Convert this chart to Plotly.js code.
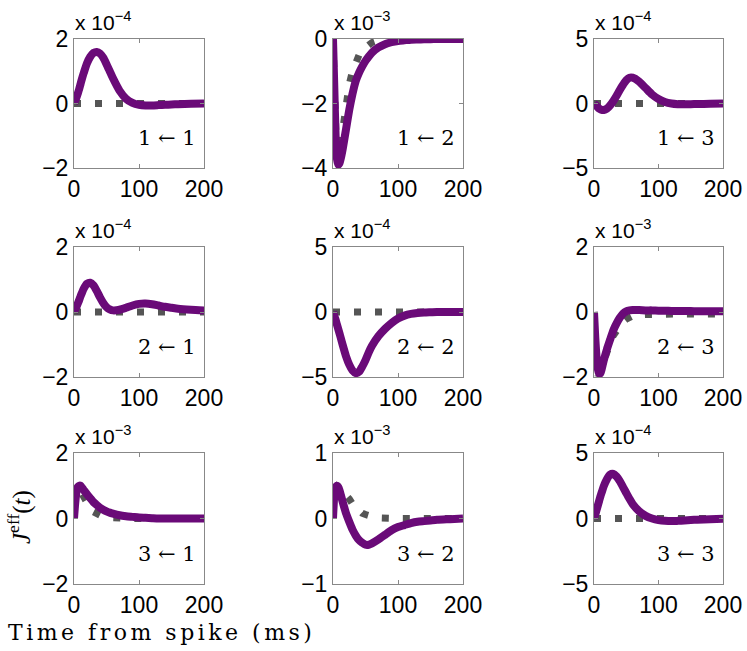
<!DOCTYPE html>
<html>
<head>
<meta charset="utf-8">
<script src="https://cdn.plot.ly/plotly-3.0.1.min.js"></script>
<style>html,body{margin:0;padding:0;background:#fff;}</style>
</head>
<body>
<div id="chart" style="width:747px;height:651px;"></div>
<script>
// time from spike (ms)
const t = [0,2,4,6,8,10,12,15,20,25,30,35,40,45,50,55,60,70,80,90,100,110,120,130,140,150,160,180,200];

// panel labels, axis ranges, tick values and exponents (values below are in units of 10^exp)
const panelLabels = ["1 ← 1","1 ← 2","1 ← 3","2 ← 1","2 ← 2","2 ← 3","3 ← 1","3 ← 2","3 ← 3"];
const exponents = [-4,-3,-4,-4,-4,-3,-3,-3,-4];
const yRanges = [[-2,2],[-4,0],[-5,5],[-2,2],[-5,5],[-2,2],[-2,2],[-1,1],[-5,5]];
const yTicks = [[-2,0,2],[-4,-2,0],[-5,0,5],[-2,0,2],[-5,0,5],[-2,0,2],[-2,0,2],[-1,0,1],[-5,0,5]];
const xTicks = [0,100,200];

// solid purple curves
const p11 = [0,0.1,0.2,0.32,0.45,0.6,0.75,0.95,1.25,1.45,1.57,1.6,1.55,1.42,1.22,1.0,0.78,0.4,0.15,0.02,-0.04,-0.06,-0.06,-0.05,-0.04,-0.03,-0.02,-0.01,0];
const p12 = [0,-1.5,-3.0,-3.7,-3.9,-3.85,-3.7,-3.4,-2.8,-2.2,-1.7,-1.3,-1.05,-0.85,-0.68,-0.54,-0.42,-0.26,-0.16,-0.1,-0.06,-0.04,-0.02,-0.015,-0.01,-0.005,0,0,0];
const p13 = [0,-0.1,-0.2,-0.3,-0.4,-0.45,-0.5,-0.5,-0.4,-0.15,0.2,0.6,1.05,1.45,1.8,2.0,2.0,1.7,1.2,0.7,0.35,0.12,0.0,-0.05,-0.06,-0.05,-0.04,-0.02,0];
const p21 = [0,0.08,0.17,0.27,0.37,0.48,0.58,0.72,0.87,0.9,0.82,0.65,0.45,0.28,0.15,0.08,0.05,0.07,0.13,0.2,0.25,0.26,0.24,0.2,0.16,0.13,0.1,0.07,0.05];
const p22 = [0,-0.3,-0.6,-0.95,-1.3,-1.65,-2.0,-2.55,-3.4,-4.05,-4.5,-4.7,-4.6,-4.2,-3.7,-3.1,-2.6,-1.85,-1.3,-0.85,-0.5,-0.28,-0.15,-0.08,-0.04,-0.02,0,0,0];
const p23 = [0,-0.8,-1.4,-1.75,-1.9,-1.88,-1.75,-1.5,-1.15,-0.85,-0.56,-0.35,-0.18,-0.05,0.02,0.05,0.06,0.06,0.05,0.05,0.04,0.04,0.03,0.03,0.03,0.03,0.02,0.02,0.02];
const p31 = [0,0.5,0.85,0.97,1.0,1.0,0.95,0.87,0.74,0.62,0.5,0.41,0.33,0.27,0.22,0.18,0.15,0.1,0.07,0.05,0.03,0.02,0.01,0,0,0,0,0,0];
const p32 = [0,0.35,0.47,0.5,0.48,0.43,0.36,0.25,0.08,-0.05,-0.17,-0.26,-0.33,-0.37,-0.4,-0.4,-0.38,-0.32,-0.25,-0.18,-0.13,-0.1,-0.07,-0.05,-0.04,-0.03,-0.02,-0.01,0];
const p33 = [0,0.3,0.65,1.0,1.35,1.7,2.0,2.45,3.0,3.35,3.4,3.2,2.85,2.4,1.95,1.5,1.1,0.55,0.2,0.0,-0.12,-0.18,-0.2,-0.18,-0.15,-0.12,-0.09,-0.05,-0.02];

// dotted grey curves
const g11 = [0,0,0,0,0,0,0,0,0,0,0,0,0,0,0,0,0,0,0,0,0,0,0,0,0,0,0,0,0];
const g12 = [0,-2.0,-3.6,-3.9,-3.8,-3.5,-3.2,-2.8,-2.0,-1.4,-1.0,-0.72,-0.5,-0.35,-0.25,-0.17,-0.11,-0.04,-0.01,0,0,0,0,0,0,0,0,0,0];
const g13 = [0,0,0,0,0,0,0,0,0,0,0,0,0,0,0,0,0,0,0,0,0,0,0,0,0,0,0,0,0];
const g21 = [0,0,0,0,0,0,0,0,0,0,0,0,0,0,0,0,0,0,0,0,0,0,0,0,0,0,0,0,0];
const g22 = [0,0,0,0,0,0,0,0,0,0,0,0,0,0,0,0,0,0,0,0,0,0,0,0,0,0,0,0,0];
const g23 = [0,-1.2,-1.8,-1.95,-1.9,-1.8,-1.7,-1.5,-1.2,-0.95,-0.72,-0.55,-0.4,-0.3,-0.22,-0.16,-0.12,-0.08,-0.07,-0.06,-0.06,-0.06,-0.06,-0.06,-0.06,-0.06,-0.06,-0.06,-0.06];
const g31 = [0,0.6,0.95,0.98,0.93,0.85,0.77,0.66,0.42,0.3,0.2,0.13,0.08,0.05,0.03,0.02,0.01,0,0,0,0,0,0,0,0,0,0,0,0];
const g32 = [0.45,0.48,0.5,0.5,0.49,0.47,0.45,0.42,0.38,0.3,0.22,0.16,0.12,0.08,0.06,0.04,0.03,0.01,0,0,0,0,0,0,0,0,0,0,0];
const g33 = [0,0,0,0,0,0,0,0,0,0,0,0,0,0,0,0,0,0,0,0,0,0,0,0,0,0,0,0,0];

const purple = [p11,p12,p13,p21,p22,p23,p31,p32,p33];
const grey = [g11,g12,g13,g21,g22,g23,g31,g32,g33];

const colDomains = [[74/747,204/747],[333/747,463/747],[594/747,723/747]];
const rowDomains = [[1-168/651,1-39/651],[1-377/651,1-247/651],[1-584/651,1-453/651]];

const data = [];
const layout = {
  width:747, height:651,
  margin:{l:0,r:0,t:0,b:0},
  paper_bgcolor:'#fff', plot_bgcolor:'#fff',
  showlegend:false,
  annotations:[]
};
const tickFont = {family:'"Liberation Sans", Arial, sans-serif', size:23, color:'#000'};

for (let i=0;i<9;i++){
  const r = Math.floor(i/3), c = i%3;
  const n = i===0 ? '' : String(i+1);
  const xa = 'x'+n, ya = 'y'+n;
  data.push({x:t, y:grey[i], xaxis:xa, yaxis:ya, mode:'lines',
    line:{color:'#555555', width:7, dash:'7px,14px'}, hoverinfo:'skip'});
  data.push({x:t, y:purple[i], xaxis:xa, yaxis:ya, mode:'lines',
    line:{color:'#6a0a78', width:8, shape:'spline', smoothing:0.6}, hoverinfo:'skip'});
  layout['xaxis'+n] = {
    domain:colDomains[c], anchor:ya, range:[0,200], tickvals:xTicks,
    ticks:'inside', ticklen:4, tickcolor:'#888', showline:true, linecolor:'#888', linewidth:1,
    mirror:'ticks', showgrid:false, zeroline:false, tickfont:tickFont, fixedrange:true
  };
  layout['yaxis'+n] = {
    domain:rowDomains[r], anchor:xa, range:yRanges[i], tickvals:yTicks[i],
    ticks:'inside', ticklen:4, tickcolor:'#888', showline:true, linecolor:'#888', linewidth:1,
    mirror:'ticks', showgrid:false, zeroline:false, tickfont:tickFont, fixedrange:true
  };
  layout.annotations.push({
    xref:xa+' domain', yref:ya+' domain', x:0, y:1, xanchor:'left', yanchor:'bottom',
    xshift:-1, yshift:3, showarrow:false,
    text:'x 10<sup>−'+Math.abs(exponents[i])+'</sup>',
    font:{family:'"Liberation Sans", Arial, sans-serif', size:21, color:'#000'}
  });
  layout.annotations.push({
    xref:xa+' domain', yref:ya+' domain', x:0.95, y:0.23, xanchor:'right', yanchor:'middle',
    showarrow:false, text:panelLabels[i],
    font:{family:'"DejaVu Serif", serif', size:21, color:'#000'}
  });
}
layout.annotations.push({
  xref:'paper', yref:'paper', x:161/747, y:1-632/651, xanchor:'center', yanchor:'middle',
  showarrow:false, text:'Time from spike (ms)',
  font:{family:'"DejaVu Serif", serif', size:22, color:'#000'}
});
layout.annotations.push({
  xref:'paper', yref:'paper', x:19/747, y:1-517/651, xanchor:'center', yanchor:'middle',
  showarrow:false, textangle:-90, text:'<i>J</i><sup>eff</sup>(<i>t</i>)',
  font:{family:'"Liberation Serif", serif', size:25, color:'#000'}
});

Plotly.newPlot('chart', data, layout, {staticPlot:true, displayModeBar:false}).then(function(gd){
  const texts = gd.querySelectorAll('.annotation-text');
  texts.forEach(function(el){
    if (el.textContent === 'Time from spike (ms)') {
      el.style.letterSpacing = '3.5px';
    }
  });
});
</script>
</body>
</html>
